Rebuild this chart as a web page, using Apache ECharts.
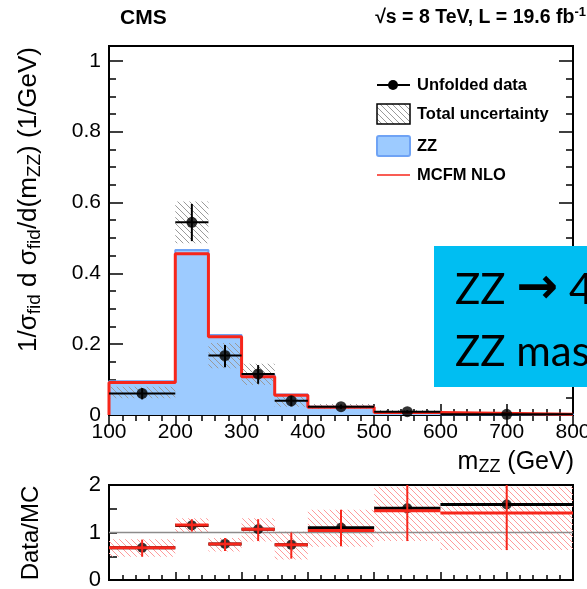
<!DOCTYPE html>
<html>
<head>
<meta charset="utf-8">
<script src="https://cdn.jsdelivr.net/npm/echarts@6/dist/echarts.min.js"></script>
<style>
  html, body { margin: 0; padding: 0; background: #fff; }
  #chart { width: 587px; height: 589px; }
</style>
</head>
<body>
<div id="chart"></div>
<script>
// m_ZZ binning (GeV)
const binLo = [100, 200, 250, 300, 350, 400, 500, 600];
const binHi = [200, 250, 300, 350, 400, 500, 600, 800];

// normalized differential fiducial cross section (1/GeV)
const zzMC      = [0.095, 0.466, 0.226, 0.113, 0.058, 0.023, 0.0080, 0.0020];
const mcfmNLO   = [0.092, 0.455, 0.221, 0.108, 0.056, 0.0217, 0.0070, 0.0018];
const unfolded  = [0.061, 0.544, 0.168, 0.116, 0.040, 0.0235, 0.0095, 0.0020];
const statLo    = [0.044, 0.491, 0.135, 0.088, 0.024, 0.0175, 0.0055, 0.0005];
const statHi    = [0.076, 0.596, 0.198, 0.141, 0.054, 0.0295, 0.0135, 0.0035];
const totUncLo  = [0.047, 0.485, 0.132, 0.085, 0.023, 0.0170, 0.0050, 0.0005];
const totUncHi  = [0.080, 0.603, 0.203, 0.145, 0.056, 0.0310, 0.0140, 0.0035];

// ratio panel: Data/MC
const ratioZZ     = [0.68, 1.15, 0.76, 1.07, 0.74, 1.10, 1.51, 1.59];
const ratioMCFM   = [0.68, 1.16, 0.76, 1.07, 0.74, 1.04, 1.46, 1.41];
const ratioErrLo  = [0.49, 1.02, 0.61, 0.82, 0.45, 0.71, 0.82, 0.63];
const ratioErrHi  = [0.85, 1.28, 0.885, 1.28, 1.00, 1.48, 2.20, 2.20];
const ratioUncLo  = [0.49, 1.00, 0.60, 0.81, 0.43, 0.70, 0.82, 0.63];
const ratioUncHi  = [0.86, 1.30, 0.885, 1.30, 1.02, 1.48, 1.965, 1.965];

// axis ranges
const xRange = [100, 800];
const yMainMax = 1.042;
const yRatioMax = 2;

const FONT = '"Liberation Sans", Arial, Helvetica, sans-serif';
const RED = '#f7261b';
const BLUE_FILL = '#9dcbff';
const BLUE_LINE = '#6fa3f5';

const centers = binLo.map((lo, i) => (lo + binHi[i]) / 2);

function stepPoints(vals) {
  const pts = [[binLo[0], 0]];
  vals.forEach((v, i) => { pts.push([binLo[i], v]); pts.push([binHi[i], v]); });
  pts.push([binHi[binHi.length - 1], 0]);
  return pts;
}

function hatchPattern(color, size, lw) {
  const c = document.createElement('canvas');
  c.width = size; c.height = size;
  const g = c.getContext('2d');
  g.strokeStyle = color; g.lineWidth = lw;
  g.beginPath();
  g.moveTo(0, 0); g.lineTo(size, size);
  g.moveTo(-1, size - 1); g.lineTo(1, size + 1);
  g.moveTo(size - 1, -1); g.lineTo(size + 1, 1);
  g.stroke();
  return { image: c, repeat: 'repeat' };
}
const greyHatch = hatchPattern('#9a9a9a', 6, 1);
const redHatch = hatchPattern('#ff9a9a', 6, 1);

function boxRender(pattern) {
  return function (params, api) {
    const a = api.coord([api.value(0), api.value(3)]);
    const b = api.coord([api.value(1), api.value(2)]);
    return {
      type: 'rect',
      shape: { x: a[0], y: a[1], width: b[0] - a[0], height: b[1] - a[1] },
      style: { fill: pattern }
    };
  };
}

function tickCfg(len) {
  return { show: true, inside: true, length: len, lineStyle: { color: '#000', width: 1.5 } };
}

const chart = echarts.init(document.getElementById('chart'), null, { renderer: 'canvas' });

const gridBase = { left: 109, width: 464, show: true, borderColor: '#000', borderWidth: 2,
  backgroundColor: 'transparent', containLabel: false, outerBoundsMode: 'none' };

const option = {
  animation: false,
  backgroundColor: '#fff',
  grid: [
    Object.assign({ top: 46, height: 369 }, gridBase),
    Object.assign({ top: 485, height: 95 }, gridBase)
  ],
  xAxis: [
    {
      gridIndex: 0, type: 'value', min: xRange[0], max: xRange[1], interval: 100, position: 'bottom',
      axisLine: { show: false }, splitLine: { show: false },
      axisTick: tickCfg(11),
      minorTick: { show: true, splitNumber: 5, length: 6, lineStyle: { color: '#000', width: 1.5 } },
      axisLabel: { fontSize: 21, color: '#000', fontFamily: FONT, margin: 7,
                   alignMinLabel: 'center', alignMaxLabel: 'center', hideOverlap: false }
    },
    {
      gridIndex: 0, type: 'value', min: xRange[0], max: xRange[1], interval: 100, position: 'top',
      axisLine: { show: false }, splitLine: { show: false },
      axisTick: tickCfg(11),
      minorTick: { show: true, splitNumber: 5, length: 6, lineStyle: { color: '#000', width: 1.5 } },
      axisLabel: { show: false }
    },
    {
      gridIndex: 1, type: 'value', min: xRange[0], max: xRange[1], interval: 100, position: 'bottom',
      axisLine: { show: false }, splitLine: { show: false },
      axisTick: tickCfg(8),
      minorTick: { show: true, splitNumber: 5, length: 5, lineStyle: { color: '#000', width: 1.5 } },
      axisLabel: { show: false }
    }
  ],
  yAxis: [
    {
      gridIndex: 0, type: 'value', min: 0, max: yMainMax, interval: 0.2, position: 'left',
      axisLine: { show: false }, splitLine: { show: false },
      axisTick: tickCfg(14),
      axisLabel: {
        fontSize: 21, color: '#000', fontFamily: FONT, margin: 8, hideOverlap: false,
        formatter: v => { const k = v / 0.2; return Math.abs(k - Math.round(k)) < 1e-6 ? String(+v.toFixed(1)) : ''; }
      }
    },
    {
      gridIndex: 0, type: 'value', min: 0, max: yMainMax, interval: 0.05, position: 'left',
      axisLine: { show: false }, splitLine: { show: false },
      axisTick: tickCfg(7), axisLabel: { show: false }
    },
    {
      gridIndex: 0, type: 'value', min: 0, max: yMainMax, interval: 0.2, position: 'right',
      axisLine: { show: false }, splitLine: { show: false },
      axisTick: tickCfg(14), axisLabel: { show: false }
    },
    {
      gridIndex: 0, type: 'value', min: 0, max: yMainMax, interval: 0.05, position: 'right',
      axisLine: { show: false }, splitLine: { show: false },
      axisTick: tickCfg(7), axisLabel: { show: false }
    },
    {
      gridIndex: 1, type: 'value', min: 0, max: yRatioMax, interval: 0.5, position: 'left',
      axisLine: { show: false }, splitLine: { show: false },
      axisTick: tickCfg(8),
      axisLabel: {
        fontSize: 22, color: '#000', fontFamily: FONT, margin: 8, hideOverlap: false,
        formatter: v => Number.isInteger(v) ? String(v) : ''
      }
    }
  ],
  series: [
    // ZZ expectation (filled histogram)
    {
      type: 'line', xAxisIndex: 0, yAxisIndex: 0, z: 1,
      data: stepPoints(zzMC), showSymbol: false, silent: true,
      lineStyle: { color: BLUE_LINE, width: 2 },
      areaStyle: { color: BLUE_FILL, opacity: 1, origin: 'start' }
    },
    // total uncertainty band
    {
      type: 'custom', xAxisIndex: 0, yAxisIndex: 0, z: 2, clip: true,
      data: binLo.map((lo, i) => [lo, binHi[i], totUncLo[i], totUncHi[i]]),
      renderItem: boxRender(greyHatch)
    },
    // MCFM NLO prediction
    {
      type: 'line', xAxisIndex: 0, yAxisIndex: 0, z: 3,
      data: stepPoints(mcfmNLO), showSymbol: false, silent: true,
      lineStyle: { color: RED, width: 3 }
    },
    // unfolded data error bars
    {
      type: 'custom', xAxisIndex: 0, yAxisIndex: 0, z: 4, clip: true,
      data: centers.map((c, i) => [c, unfolded[i], statLo[i], statHi[i], binLo[i], binHi[i]]),
      renderItem: (params, api) => {
        const l = api.coord([api.value(4), api.value(1)]);
        const r = api.coord([api.value(5), api.value(1)]);
        const lo = api.coord([api.value(0), api.value(2)]);
        const hi = api.coord([api.value(0), api.value(3)]);
        const st = { stroke: '#000', lineWidth: 2 };
        return { type: 'group', children: [
          { type: 'line', shape: { x1: l[0], y1: l[1], x2: r[0], y2: r[1] }, style: st },
          { type: 'line', shape: { x1: lo[0], y1: lo[1], x2: hi[0], y2: hi[1] }, style: st }
        ] };
      }
    },
    // unfolded data points
    {
      type: 'scatter', xAxisIndex: 0, yAxisIndex: 0, z: 5,
      data: centers.map((c, i) => [c, unfolded[i]]),
      symbol: 'circle', symbolSize: 11, itemStyle: { color: '#000' }
    },
    // ratio: uncertainty band
    {
      type: 'custom', xAxisIndex: 2, yAxisIndex: 4, z: 1, clip: true,
      data: binLo.map((lo, i) => [lo, binHi[i], ratioUncLo[i], ratioUncHi[i]]),
      renderItem: boxRender(redHatch)
    },
    // ratio: unity reference
    {
      type: 'line', xAxisIndex: 2, yAxisIndex: 4, z: 2, silent: true,
      data: [[xRange[0], 1], [xRange[1], 1]], showSymbol: false,
      lineStyle: { color: '#8c8c8c', width: 1.5 }
    },
    // ratio: data / ZZ
    {
      type: 'custom', xAxisIndex: 2, yAxisIndex: 4, z: 3, clip: true,
      data: binLo.map((lo, i) => [lo, binHi[i], ratioZZ[i]]),
      renderItem: (params, api) => {
        const l = api.coord([api.value(0), api.value(2)]);
        const r = api.coord([api.value(1), api.value(2)]);
        return { type: 'line', shape: { x1: l[0], y1: l[1], x2: r[0], y2: r[1] }, style: { stroke: '#000', lineWidth: 3 } };
      }
    },
    {
      type: 'scatter', xAxisIndex: 2, yAxisIndex: 4, z: 4,
      data: centers.map((c, i) => [c, ratioZZ[i]]),
      symbol: 'circle', symbolSize: 10, itemStyle: { color: '#000' }
    },
    // ratio: data / MCFM with error bars
    {
      type: 'custom', xAxisIndex: 2, yAxisIndex: 4, z: 5, clip: true,
      data: centers.map((c, i) => [c, ratioMCFM[i], ratioErrLo[i], ratioErrHi[i], binLo[i], binHi[i]]),
      renderItem: (params, api) => {
        const l = api.coord([api.value(4), api.value(1)]);
        const r = api.coord([api.value(5), api.value(1)]);
        const lo = api.coord([api.value(0), api.value(2)]);
        const hi = api.coord([api.value(0), api.value(3)]);
        return { type: 'group', children: [
          { type: 'line', shape: { x1: l[0], y1: l[1], x2: r[0], y2: r[1] }, style: { stroke: RED, lineWidth: 3 } },
          { type: 'line', shape: { x1: lo[0], y1: lo[1], x2: hi[0], y2: hi[1] }, style: { stroke: RED, lineWidth: 2 } }
        ] };
      }
    }
  ],
  graphic: [
    // header
    { type: 'text', x: 120, y: 18, z: 10, style: { text: 'CMS', fontFamily: FONT, fontWeight: 'bold', fontSize: 21, fill: '#000', verticalAlign: 'middle' } },
    { type: 'text', x: 586, y: 18, z: 10, style: {
        text: '√s = 8 TeV, L = 19.6 fb{sup|-1}', fontFamily: FONT, fontWeight: 'bold', fontSize: 19.5, fill: '#000',
        align: 'right', verticalAlign: 'middle',
        rich: { sup: { fontFamily: FONT, fontWeight: 'bold', fontSize: 13, verticalAlign: 'top', lineHeight: 24 } }
    } },
    // y-axis titles
    { type: 'text', x: 29, y: 47, rotation: Math.PI / 2, z: 10, style: {
        text: '1/σ{sub|fid} d σ{sub|fid}/d(m{sub|ZZ}) (1/GeV)', fontFamily: FONT, fontSize: 26, fill: '#000',
        align: 'right', verticalAlign: 'middle', lineHeight: 30,
        rich: { sub: { fontFamily: FONT, fontSize: 19, fill: '#000', verticalAlign: 'bottom', lineHeight: 19 } }
    } },
    { type: 'text', x: 31, y: 533, rotation: Math.PI / 2, z: 10, style: {
        text: 'Data/MC', fontFamily: FONT, fontSize: 24, fill: '#000', align: 'center', verticalAlign: 'middle'
    } },
    // x-axis title
    { type: 'text', x: 574, y: 462, z: 10, style: {
        text: 'm{sub|ZZ} (GeV)', fontFamily: FONT, fontSize: 25, fill: '#000',
        align: 'right', verticalAlign: 'middle', lineHeight: 29,
        rich: { sub: { fontFamily: FONT, fontSize: 18, fill: '#000', verticalAlign: 'bottom', lineHeight: 18 } }
    } },
    // legend
    { type: 'line', z: 10, shape: { x1: 377, y1: 85, x2: 410, y2: 85 }, style: { stroke: '#000', lineWidth: 2 } },
    { type: 'circle', z: 10, shape: { cx: 393, cy: 85, r: 5 }, style: { fill: '#000' } },
    { type: 'text', x: 417, y: 85, z: 10, style: { text: 'Unfolded data', fontFamily: FONT, fontWeight: 'bold', fontSize: 16.5, fill: '#000', verticalAlign: 'middle' } },
    { type: 'rect', z: 10, shape: { x: 377, y: 104, width: 33, height: 20 }, style: { fill: greyHatch, stroke: '#000', lineWidth: 1.5 } },
    { type: 'text', x: 417, y: 114, z: 10, style: { text: 'Total uncertainty', fontFamily: FONT, fontWeight: 'bold', fontSize: 16.5, fill: '#000', verticalAlign: 'middle' } },
    { type: 'rect', z: 10, shape: { x: 377, y: 136, width: 33, height: 20, r: 2 }, style: { fill: BLUE_FILL, stroke: BLUE_LINE, lineWidth: 2 } },
    { type: 'text', x: 417, y: 146, z: 10, style: { text: 'ZZ', fontFamily: FONT, fontWeight: 'bold', fontSize: 16.5, fill: '#000', verticalAlign: 'middle' } },
    { type: 'line', z: 10, shape: { x1: 377, y1: 175, x2: 410, y2: 175 }, style: { stroke: RED, lineWidth: 1.5 } },
    { type: 'text', x: 417, y: 175, z: 10, style: { text: 'MCFM NLO', fontFamily: FONT, fontWeight: 'bold', fontSize: 16.5, fill: '#000', verticalAlign: 'middle' } },
    // caption box
    { type: 'rect', z: 20, shape: { x: 434, y: 246, width: 160, height: 141 }, style: { fill: '#00bef2' } },
    { type: 'text', x: 455, y: 290, z: 21, style: {
        text: 'ZZ {arr|→} 4ℓ', fontFamily: 'Lato, "Open Sans", sans-serif', fontSize: 42, fill: '#000', verticalAlign: 'middle',
        rich: { arr: { fontFamily: '"DejaVu Sans", sans-serif', fontWeight: 'bold', fontSize: 50, fill: '#000' } }
    } },
    { type: 'text', x: 455, y: 352, z: 21, style: {
        text: 'ZZ mass', fontFamily: 'Lato, "Open Sans", sans-serif', fontSize: 42, fill: '#000', verticalAlign: 'middle'
    } }
  ]
};

chart.setOption(option);
</script>
</body>
</html>
